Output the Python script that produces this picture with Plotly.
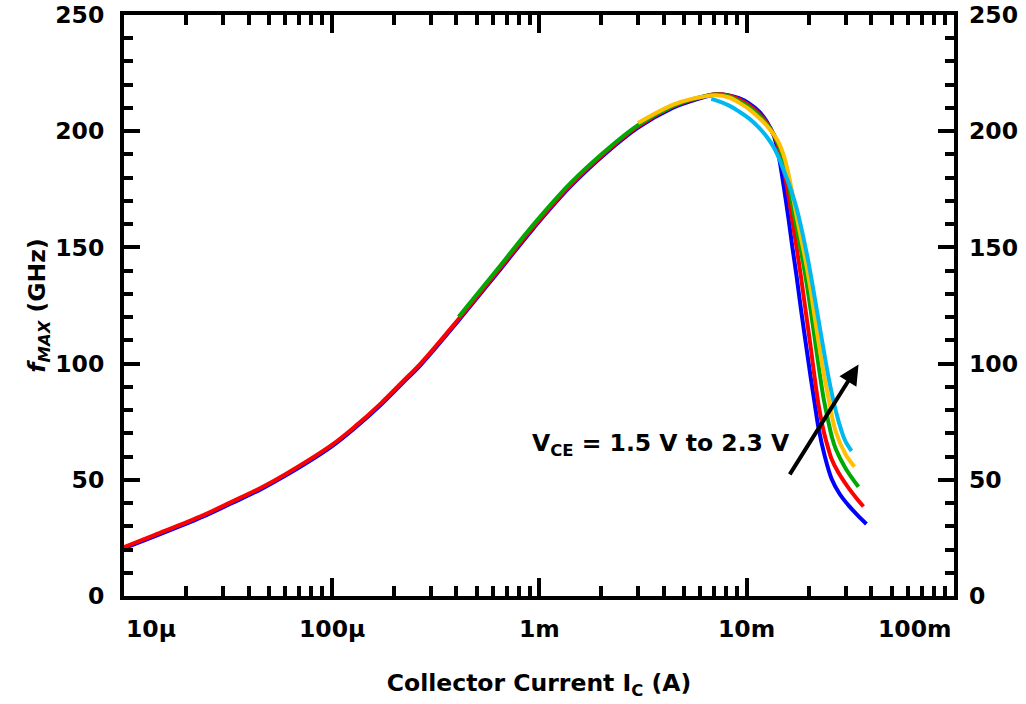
import plotly.graph_objects as go

# fMAX vs collector current, one curve per V_CE (1.5 V ... 2.3 V)
ic_15 = [1.0e-5, 1.4e-5, 2.4e-5, 3.3e-5, 4.6e-5, 6.0e-5, 1.0e-4, 1.3e-4, 1.73e-4, 2.2e-4,
         2.7e-4, 4.1e-4, 6.3e-4, 9.4e-4, 1.41e-3, 2.12e-3, 3.0e-3, 4.4e-3, 5.5e-3, 7.14e-3,
         8.25e-3, 9.2e-3, 1.028e-2, 1.148e-2, 1.254e-2, 1.355e-2, 1.432e-2, 1.513e-2, 1.599e-2,
         1.652e-2, 1.747e-2, 1.826e-2, 1.929e-2, 2.039e-2, 2.13e-2, 2.227e-2, 2.379e-2, 2.57e-2,
         2.808e-2, 3.101e-2, 3.426e-2, 3.784e-2]
fmax_15 = [20.5, 25.6, 34.1, 39.9, 46.1, 51.8, 64.3, 72.4, 82.3, 91.6,
           99.6, 118.6, 139, 158.2, 176, 190.8, 201.5, 210, 213.2, 215.8,
           215.4, 214.2, 212, 208.5, 204, 198, 189, 176, 161.5,
           152, 137, 124, 109, 94, 83, 72, 60.5, 50.5,
           44, 39, 34.8, 31]

ic_17 = [1.0e-5, 1.4e-5, 2.4e-5, 3.3e-5, 4.6e-5, 6.0e-5, 1.0e-4, 1.3e-4, 1.73e-4, 2.2e-4,
         2.7e-4, 4.1e-4, 6.3e-4, 9.4e-4, 1.41e-3, 2.12e-3, 3.0e-3, 4.4e-3, 5.5e-3, 7.14e-3,
         8.25e-3, 9.2e-3, 1.028e-2, 1.148e-2, 1.254e-2, 1.355e-2, 1.432e-2, 1.513e-2, 1.599e-2,
         1.69e-2, 1.747e-2, 1.826e-2, 1.929e-2, 2.039e-2, 2.13e-2, 2.227e-2, 2.353e-2, 2.487e-2,
         2.57e-2, 2.777e-2, 3.101e-2, 3.426e-2, 3.661e-2]
fmax_17 = [21, 26.2, 34.7, 40.5, 46.7, 52.4, 64.9, 73, 82.9, 92.2,
           100.2, 119.2, 139.6, 158.8, 176.6, 191.4, 202.1, 210.5, 213.6, 216,
           215.3, 213.7, 211.2, 207.6, 203.5, 198.5, 192.5, 183.5, 171.5,
           157.5, 149.5, 138, 122.5, 107, 94, 82, 71, 63,
           59, 53, 46.5, 41.5, 38.5]

ic_19 = [4.1e-4, 6.3e-4, 9.4e-4, 1.41e-3, 2.12e-3, 3.0e-3, 4.4e-3, 5.5e-3, 7.14e-3, 8.25e-3,
         9.2e-3, 1.028e-2, 1.148e-2, 1.254e-2, 1.355e-2, 1.432e-2, 1.513e-2, 1.599e-2, 1.69e-2,
         1.747e-2, 1.826e-2, 1.929e-2, 2.039e-2, 2.13e-2, 2.227e-2, 2.277e-2, 2.353e-2, 2.487e-2,
         2.57e-2, 2.687e-2, 3.0e-2, 3.464e-2]
fmax_19 = [120.2, 140.6, 159.8, 177.4, 192, 202.6, 210.8, 213.8, 215.8, 215,
           213, 210.5, 206.8, 203, 198.5, 194, 187.5, 177, 165,
           158, 149, 137, 123, 111, 99, 93, 85, 74.5,
           69, 63.5, 55, 47]

ic_21 = [3.0e-3, 4.4e-3, 5.5e-3, 7.14e-3, 8.25e-3, 9.2e-3, 1.028e-2, 1.148e-2, 1.254e-2, 1.355e-2,
         1.432e-2, 1.513e-2, 1.599e-2, 1.69e-2, 1.747e-2, 1.826e-2, 1.929e-2, 2.039e-2, 2.107e-2,
         2.227e-2, 2.353e-2, 2.487e-2, 2.687e-2, 3.0e-2, 3.314e-2]
fmax_21 = [203.5, 211.3, 214, 215.5, 214.5, 212.3, 209.5, 205.8, 202.3, 198.5,
           195, 189.5, 181, 170, 163, 154.5, 144, 131.5, 123,
           109, 96, 85, 71, 61, 55.6]

ic_23 = [6.76e-3, 7.14e-3, 8.25e-3, 9.2e-3, 1.028e-2, 1.148e-2, 1.254e-2, 1.355e-2, 1.432e-2,
         1.513e-2, 1.599e-2, 1.69e-2, 1.747e-2, 1.826e-2, 1.929e-2, 1.995e-2, 2.107e-2, 2.227e-2,
         2.353e-2, 2.487e-2, 2.687e-2, 2.871e-2, 3.0e-2, 3.206e-2]
fmax_23 = [213.8, 213.3, 211, 208.5, 205.5, 201.5, 197.5, 193, 188.5,
           183, 177.5, 171, 166.5, 159.5, 149.5, 143, 131, 118.5,
           106, 94, 80, 71, 66.5, 62.4]

series = [
    ("1.5 V", ic_15, fmax_15, "#0000FF"),
    ("1.7 V", ic_17, fmax_17, "#FF0000"),
    ("1.9 V", ic_19, fmax_19, "#00A800"),
    ("2.1 V", ic_21, fmax_21, "#FFC000"),
    ("2.3 V", ic_23, fmax_23, "#00B8F0"),
]

x_tickvals = [1e-5, 1e-4, 1e-3, 1e-2, 1e-1]
x_ticktext = ["10µ", "100µ", "1m", "10m", "100m"]
y_tickvals = [0, 50, 100, 150, 200, 250]

FONT = "DejaVu Sans"
FS = 23.5

fig = go.Figure()
for name, ic, fm, color in series:
    fig.add_trace(go.Scatter(
        x=ic, y=fm, mode="lines", name=name,
        line=dict(color=color, width=4, shape="spline", smoothing=1.0, simplify=False),
        showlegend=False, hoverinfo="skip",
    ))

# invisible trace so the right-hand axis carries its own labels
fig.add_trace(go.Scatter(x=[1e-3], y=[0], yaxis="y2", mode="markers",
                         marker=dict(opacity=0), showlegend=False, hoverinfo="skip"))

tick_font = dict(family=FONT, size=FS, color="black", weight="bold")

fig.update_layout(
    width=1026, height=704,
    margin=dict(l=124, r=72, t=15, b=108, autoexpand=False),
    paper_bgcolor="white", plot_bgcolor="white",
    font=dict(family=FONT, color="black"),
    xaxis=dict(
        type="log", range=[-5, -1], automargin=False,
        tickvals=x_tickvals, showticklabels=False,
        ticks="inside", ticklen=18, tickwidth=3.5, tickcolor="black",
        minor=dict(ticks="inside", ticklen=10, tickwidth=3.5, tickcolor="black", dtick="D1", showgrid=False),
        showline=True, linewidth=4, linecolor="black", mirror="ticks",
        showgrid=False, zeroline=False,
        title=dict(text="<b>Collector Current I<sub>C</sub> (A)</b>",
                   font=dict(family=FONT, size=FS, color="black"), standoff=77),
    ),
    yaxis=dict(
        range=[0, 250], tickvals=y_tickvals, automargin=False,
        ticks="inside", ticklen=16, tickwidth=3.5, tickcolor="black",
        minor=dict(ticks="inside", ticklen=9, tickwidth=3.5, tickcolor="black", dtick=10, showgrid=False),
        showline=True, linewidth=4, linecolor="black", mirror="ticks",
        showgrid=False, zeroline=False,
        tickfont=tick_font, ticklabelstandoff=11, ticklabeloverflow="allow",
        title=dict(text="<b><i>f</i><sub><i>MAX</i></sub> (GHz)</b>",
                   font=dict(family=FONT, size=FS, color="black"), standoff=4),
    ),
    yaxis2=dict(
        overlaying="y", side="right", range=[0, 250], tickvals=y_tickvals, automargin=False,
        ticks="", showline=False, showgrid=False, zeroline=False,
        tickfont=tick_font, ticklabelstandoff=14, ticklabeloverflow="allow",
    ),
)

# decade labels under the current axis: the outer two sit inside the frame
last = len(x_tickvals) - 1
for i, (val, txt) in enumerate(zip(x_tickvals, x_ticktext)):
    anchor = "left" if i == 0 else ("right" if i == last else "center")
    fig.add_annotation(
        x=[-5, -4, -3, -2, -1][i], y=0, xref="x", yref="paper",
        text=f"<b>{txt}</b>", showarrow=False,
        font=dict(family=FONT, size=FS, color="black"),
        xanchor=anchor, yanchor="middle", yshift=-33,
    )

fig.add_annotation(
    x=-2.41, y=65.4, xref="x", yref="y",
    text="<b>V<sub>CE</sub> = 1.5 V to 2.3 V</b>", showarrow=False,
    font=dict(family=FONT, size=FS, color="black"),
    xanchor="center", yanchor="middle",
)
fig.add_annotation(
    x=-1.46, y=99.6, ax=-1.796, ay=51.7,
    xref="x", yref="y", axref="x", ayref="y",
    text="", showarrow=True, arrowhead=2, arrowsize=1, arrowwidth=4, arrowcolor="black",
)

fig.write_html("out.html")
